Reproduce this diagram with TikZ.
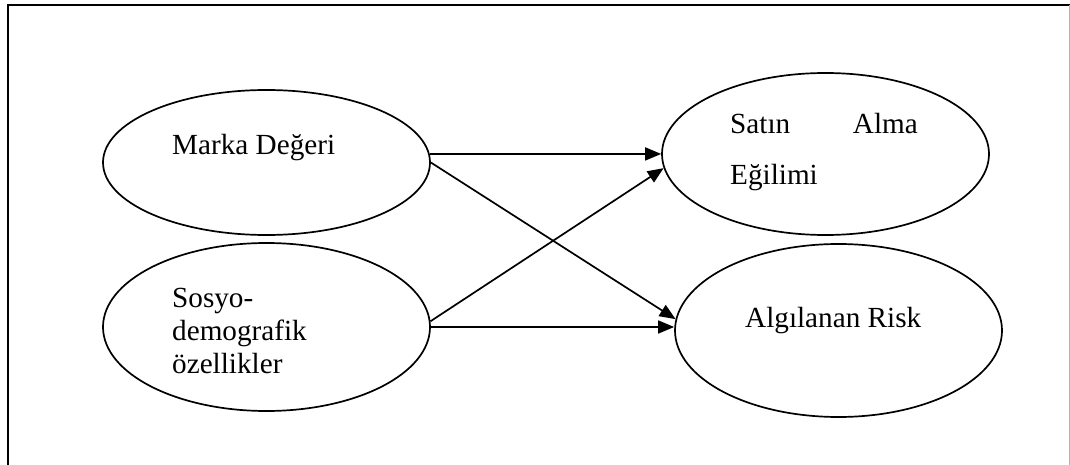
\documentclass[tikz,border=0pt]{standalone}
\usepackage{fontspec}
\setmainfont{Liberation Serif}
\usetikzlibrary{arrows.meta,shapes.geometric}

\begin{document}
\begin{tikzpicture}[x=1pt,y=-1pt,
  ell/.style={ellipse,draw,line width=1.7pt,inner sep=0pt},
  lbl/.style={inner sep=0pt,font=\fontsize{29.2}{33}\selectfont},
  arr/.style={line width=1.7pt,-{Triangle[length=16pt,width=13pt]}}]
  \useasboundingbox (0,0) rectangle (1070,465);

  % outer frame (open at the bottom)
  \draw[line width=1.8pt] (8,465) -- (8,5) -- (1070,5);
  \draw[gray!60,line width=1pt] (1069,5) -- (1069,465);

  % the four constructs
  \node[ell,minimum width=327pt,minimum height=145pt] (m) at (266.5,162.5) {};
  \node[ell,minimum width=327pt,minimum height=168pt] (o) at (266.5,327) {};
  \node[ell,minimum width=327pt,minimum height=162pt] (s) at (825.5,154) {};
  \node[ell,minimum width=327pt,minimum height=173pt] (r) at (838.5,330.5) {};

  % labels
  \node[lbl,anchor=base west] (mt) at (172,155) {Marka Değeri};
  \node[lbl,anchor=base west] (ot1) at (172,307) {Sosyo-};
  \node[lbl,anchor=base west] (ot2) at (172,340) {demografik};
  \node[lbl,anchor=base west] (ot3) at (172,373) {özellikler};
  \node[lbl,anchor=base west] (st1) at (730,134) {Satın};
  \node[lbl,anchor=base east] (st2) at (918,134) {Alma};
  \node[lbl,anchor=base west] (st3) at (730,185) {Eğilimi};
  \node[lbl,anchor=base west] (rt) at (745,327) {Algılanan Risk};

  % relations
  \draw[arr] (m.3) -- (m.3 -| s.west);
  \draw[arr] (m.east) -- (r.176);
  \draw[arr] (o.2) -- (s.185);
  \draw[arr] (o.east) -- (o.east -| r.west);
\end{tikzpicture}
\end{document}
